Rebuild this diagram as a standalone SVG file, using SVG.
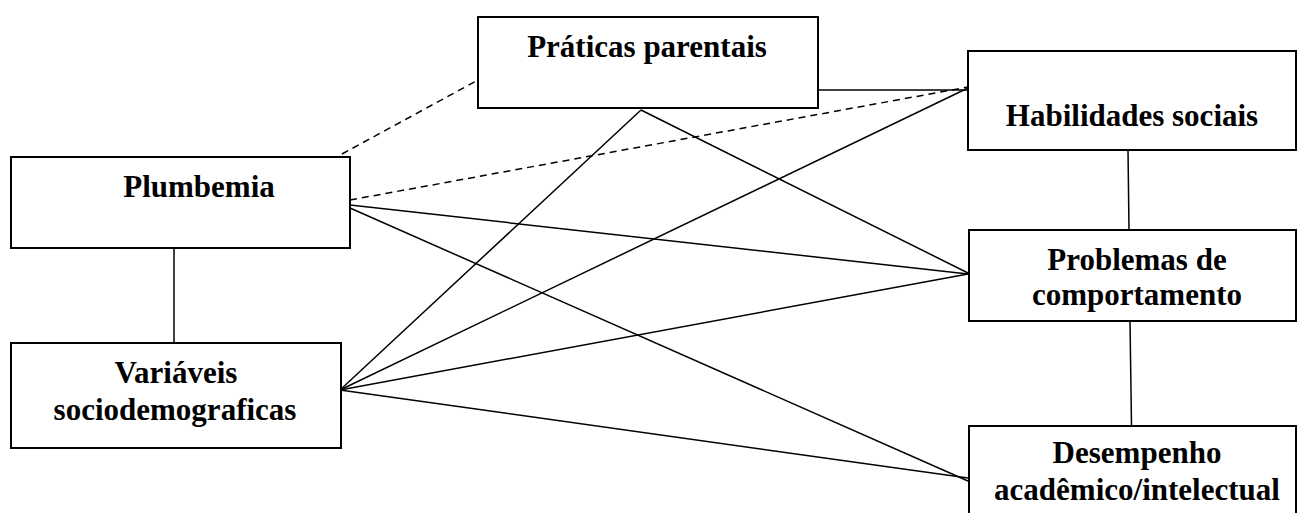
<svg xmlns="http://www.w3.org/2000/svg" width="1297" height="513" viewBox="0 0 1297 513">
<style>
.box{fill:#fff;stroke:#000;stroke-width:2}
.t{font-family:"Liberation Serif","Times New Roman",serif;font-weight:bold;font-size:31px;fill:#000;text-anchor:middle}
.c{stroke:#000;stroke-width:1.5;fill:none}
.d{stroke:#000;stroke-width:1.5;fill:none;stroke-dasharray:7 5}
</style>
<rect width="1297" height="513" fill="#fff"/>
<g id="connectors">
<line class="c" x1="174" y1="248" x2="174" y2="343"/>
<line class="c" x1="1128" y1="150" x2="1129" y2="230"/>
<line class="c" x1="1130" y1="321" x2="1131.5" y2="426"/>
<line class="c" x1="818" y1="90" x2="968" y2="90"/>
<line class="d" x1="342" y1="154" x2="478" y2="80"/>
<line class="d" x1="350" y1="200" x2="968" y2="87"/>
<line class="c" x1="350" y1="205" x2="968" y2="274"/>
<line class="c" x1="350" y1="208" x2="968" y2="481"/>
<line class="c" x1="641" y1="110" x2="968" y2="273"/>
<line class="c" x1="340" y1="390" x2="641" y2="110"/>
<line class="c" x1="340" y1="390" x2="968" y2="88"/>
<line class="c" x1="340" y1="390" x2="968" y2="274"/>
<line class="c" x1="340" y1="390" x2="968" y2="478"/>
</g>
<g id="plumbemia">
<rect class="box" x="11" y="157" width="339" height="91"/>
<text class="t" x="199" y="197">Plumbemia</text>
</g>
<g id="praticas">
<rect class="box" x="478" y="17" width="340" height="91"/>
<text class="t" x="647" y="57">Práticas parentais</text>
</g>
<g id="habilidades">
<rect class="box" x="968" y="51" width="328" height="99"/>
<text class="t" x="1132" y="126">Habilidades sociais</text>
</g>
<g id="problemas">
<rect class="box" x="969" y="230" width="327" height="91"/>
<text class="t" x="1137" y="270">Problemas de</text>
<text class="t" x="1137" y="305">comportamento</text>
</g>
<g id="variaveis">
<rect class="box" x="11" y="343" width="330" height="105"/>
<text class="t" x="176" y="383">Variáveis</text>
<text class="t" x="175" y="420">sociodemograficas</text>
</g>
<g id="desempenho">
<rect class="box" x="969" y="426" width="327" height="100"/>
<text class="t" x="1137" y="463">Desempenho</text>
<text class="t" x="1137" y="500">acadêmico/intelectual</text>
</g>
</svg>
